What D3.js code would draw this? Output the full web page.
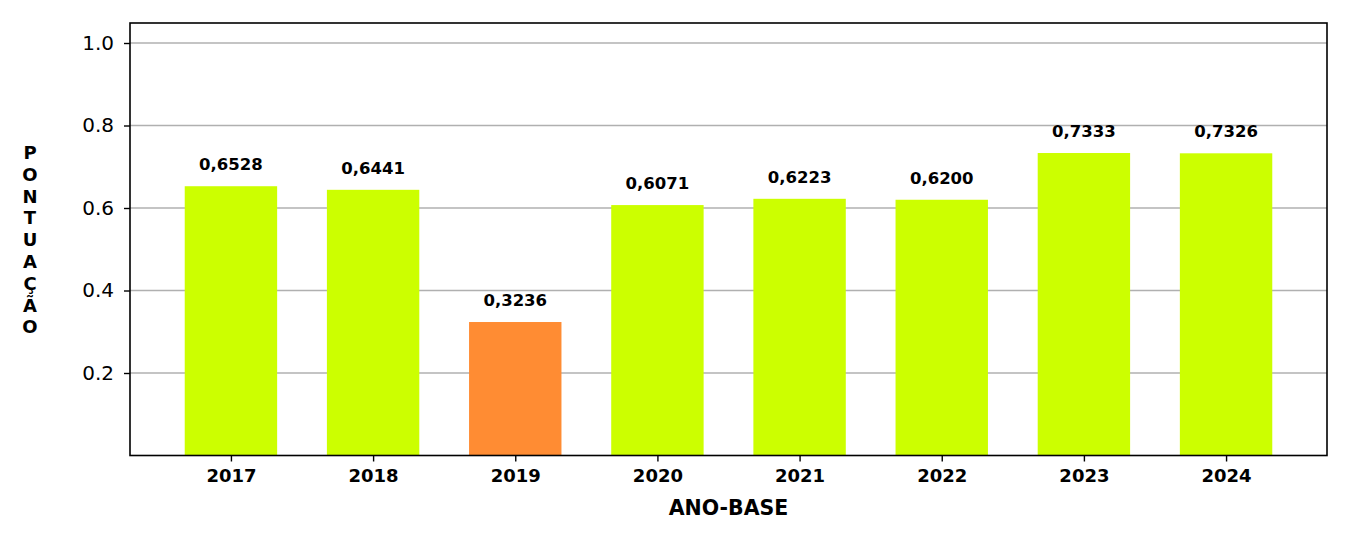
<!DOCTYPE html>
<html><head><meta charset="utf-8">
<script src="https://cdn.jsdelivr.net/npm/d3@7"></script>
<style>body{margin:0;background:#fff}svg{display:block;font-family:"DejaVu Sans",sans-serif}</style>
</head><body><svg id="c" width="1350" height="540"></svg>
<script>
const years = ["2017","2018","2019","2020","2021","2022","2023","2024"];
const values = [0.6528, 0.6441, 0.3236, 0.6071, 0.6223, 0.6200, 0.7333, 0.7326];
const valueLabels = ["0,6528","0,6441","0,3236","0,6071","0,6223","0,6200","0,7333","0,7326"];
const barColors = ["#ccff00","#ccff00","#ff8c33","#ccff00","#ccff00","#ccff00","#ccff00","#ccff00"];
const yTicks = [0.2, 0.4, 0.6, 0.8, 1.0];
const yLabelChars = ["P","O","N","T","U","A","Ç","Ã","O"];
const xTitle = "ANO-BASE";

const L = 130, R = 1327, T = 23, B = 455.5;
const svg = d3.select("#c");
const x = d3.scaleLinear().domain([-0.71, 7.71]).range([L, R]);
const y = d3.scaleLinear().domain([0, 1.0485]).range([B, T]);
const bw = x(0.65) - x(0);

// grid
svg.append("g").selectAll("line").data(yTicks).join("line")
  .attr("x1", L).attr("x2", R).attr("y1", d => y(d)).attr("y2", d => y(d))
  .attr("stroke", "#b0b0b0").attr("stroke-width", 1.6);

// bars
svg.append("g").selectAll("rect").data(values).join("rect")
  .attr("x", (d, i) => x(i) - bw / 2).attr("width", bw)
  .attr("y", d => y(d)).attr("height", d => B - y(d))
  .attr("fill", (d, i) => barColors[i]);

// value labels
svg.append("g").selectAll("text").data(values).join("text")
  .attr("x", (d, i) => x(i)).attr("y", d => y(d) - 16)
  .attr("text-anchor", "middle").attr("font-weight", "bold").attr("font-size", 16.5)
  .text((d, i) => valueLabels[i]);

// axes
const yAxis = d3.axisLeft(y).tickValues(yTicks).tickFormat(d3.format(".1f")).tickSize(6).tickPadding(10);
const gy = svg.append("g").attr("transform", `translate(${L},0)`).call(yAxis);
gy.select(".domain").remove();
gy.selectAll("line").attr("stroke", "#000").attr("stroke-width", 1.4);
gy.selectAll("text").attr("font-size", 20).attr("fill", "#000").attr("font-family", "DejaVu Sans");

const xAxis = d3.axisBottom(x).tickValues(d3.range(years.length)).tickFormat(i => years[i]).tickSize(6).tickPadding(8);
const gx = svg.append("g").attr("transform", `translate(0,${B})`).call(xAxis);
gx.select(".domain").remove();
gx.selectAll("line").attr("stroke", "#000").attr("stroke-width", 1.4);
gx.selectAll("text").attr("font-size", 18).attr("font-weight", "bold").attr("fill", "#000").attr("font-family", "DejaVu Sans");

// frame
svg.append("rect").attr("x", L).attr("y", T).attr("width", R - L).attr("height", B - T)
  .attr("fill", "none").attr("stroke", "#000").attr("stroke-width", 1.6);

// x title
svg.append("text").attr("x", (L + R) / 2).attr("y", 515).attr("text-anchor", "middle")
  .attr("font-weight", "bold").attr("font-size", 20.5).text(xTitle);

// y title stacked
const yt = svg.append("text").attr("text-anchor", "middle").attr("font-weight", "bold").attr("font-size", 18);
yLabelChars.forEach((c, i) => {
  yt.append("tspan").attr("x", 30).attr("y", 159 + i * 21.8).text(c);
});
</script></body></html>
